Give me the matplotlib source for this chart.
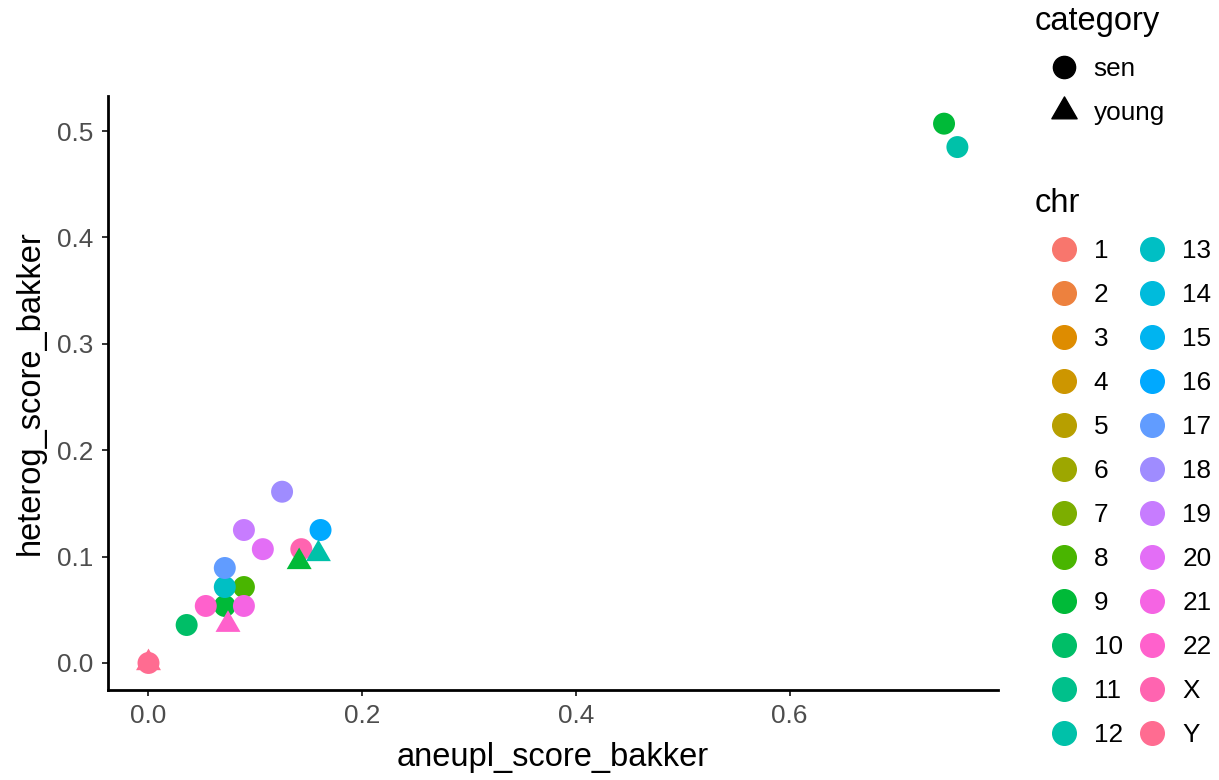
import numpy as np
import matplotlib
matplotlib.use("Agg")
import matplotlib.pyplot as plt
from matplotlib.lines import Line2D
from matplotlib.path import Path

plt.rcParams['font.family'] = ['Liberation Sans', 'DejaVu Sans']

# chromosome levels (factor order)
chr_levels = [str(i) for i in range(1, 23)] + ['X', 'Y']

# visible points, in plotting (row) order
sen_chr = ['8', '9', '9', '10', '12', '13', '16', '17', '18', '19', '20', '21', '22', 'X', 'Y']
sen_x = [0.0893, 0.7445, 0.0714, 0.0357, 0.757, 0.0714, 0.161, 0.0714, 0.125, 0.0893, 0.107, 0.0893, 0.0536, 0.143, 0.0]
sen_y = [0.0714, 0.507, 0.0536, 0.0357, 0.485, 0.0714, 0.125, 0.0893, 0.161, 0.125, 0.107, 0.0536, 0.0536, 0.107, 0.0]

young_chr = ['9', '12', '22', 'Y']
young_x = [0.141, 0.159, 0.0744, 0.0]
young_y = [0.095, 0.1025, 0.036, 0.0]


def hue_pal(n, l=65, c=100):
    # ggplot2 default hue palette (polar LUV -> sRGB)
    hues = np.linspace(15, 360, n)
    un, vn = 0.1978398, 0.4683363
    out = []
    for h in hues:
        u = c * np.cos(np.radians(h))
        v = c * np.sin(np.radians(h))
        Y = ((l + 16) / 116) ** 3
        up = u / (13 * l) + un
        vp = v / (13 * l) + vn
        X = 9 * Y * up / (4 * vp)
        Z = -X / 3 - 5 * Y + 3 * Y / vp
        rgb = [3.240479 * X - 1.537150 * Y - 0.498535 * Z,
               -0.969256 * X + 1.875992 * Y + 0.041556 * Z,
               0.055648 * X - 0.204043 * Y + 1.057311 * Z]
        rgb = [1.055 * x ** (1 / 2.4) - 0.055 if x > 0.00304 else 12.92 * x for x in rgb]
        out.append(tuple(min(max(x, 0), 1) for x in rgb))
    return out


pal = dict(zip(chr_levels, hue_pal(len(chr_levels))))

# R style triangle (pch 17), centred on its centroid
tri = Path([(0, 1.555), (1.3468, -0.7776), (-1.3468, -0.7776), (0, 1.555)],
           [Path.MOVETO, Path.LINETO, Path.LINETO, Path.CLOSEPOLY])

fig = plt.figure(figsize=(12.19, 7.8), dpi=100)
ax = fig.add_axes([108 / 1219, 90 / 780, 890 / 1219, 594 / 780])

ax.scatter(sen_x, sen_y, s=250, marker='o', c=[pal[k] for k in sen_chr], linewidths=0, zorder=3)
ax.scatter(young_x, young_y, s=430, marker=tri, c=[pal[k] for k in young_chr], linewidths=0, zorder=3)

ax.set_xlim(-0.0379, 0.795)
ax.set_ylim(-0.0254, 0.533)
ax.set_xticks([0.0, 0.2, 0.4, 0.6])
ax.set_yticks([0.0, 0.1, 0.2, 0.3, 0.4, 0.5])
ax.set_xticklabels(['0.0', '0.2', '0.4', '0.6'])
ax.set_yticklabels(['0.0', '0.1', '0.2', '0.3', '0.4', '0.5'])
for s in ['top', 'right']:
    ax.spines[s].set_visible(False)
for s in ['left', 'bottom']:
    ax.spines[s].set_linewidth(2.0)
ax.tick_params(length=4.3, width=1.4, color='#333333', labelcolor='#4D4D4D', labelsize=18.8, pad=6)
ax.set_xlabel('aneupl_score_bakker', fontsize=23.5, labelpad=10)
ax.set_ylabel('heterog_score_bakker', fontsize=23.5, labelpad=8)

# legends
cat_handles = [Line2D([], [], ls='none', marker='o', markersize=16, color='black'),
               Line2D([], [], ls='none', marker=tri, markersize=21, color='black')]
leg1 = fig.legend(cat_handles, ['sen', 'young'], title='category', loc='upper left',
                  bbox_to_anchor=(1035 / 1219, 1 - 6 / 780), frameon=False, fontsize=18.8,
                  title_fontsize=23.5, alignment='left', borderpad=0, borderaxespad=0,
                  handlelength=2.2, handletextpad=0.05, labelspacing=0.77)

chr_handles = [Line2D([], [], ls='none', marker='o', markersize=17, color=pal[k]) for k in chr_levels]
leg2 = fig.legend(chr_handles, chr_levels, title='chr', loc='upper left', ncol=2,
                  bbox_to_anchor=(1035 / 1219, 1 - 188 / 780), frameon=False, fontsize=18.8,
                  title_fontsize=23.5, alignment='left', borderpad=0, borderaxespad=0,
                  handlelength=2.2, handletextpad=0.05, labelspacing=0.765, columnspacing=0.02)

fig.savefig('out.png', dpi=100)
